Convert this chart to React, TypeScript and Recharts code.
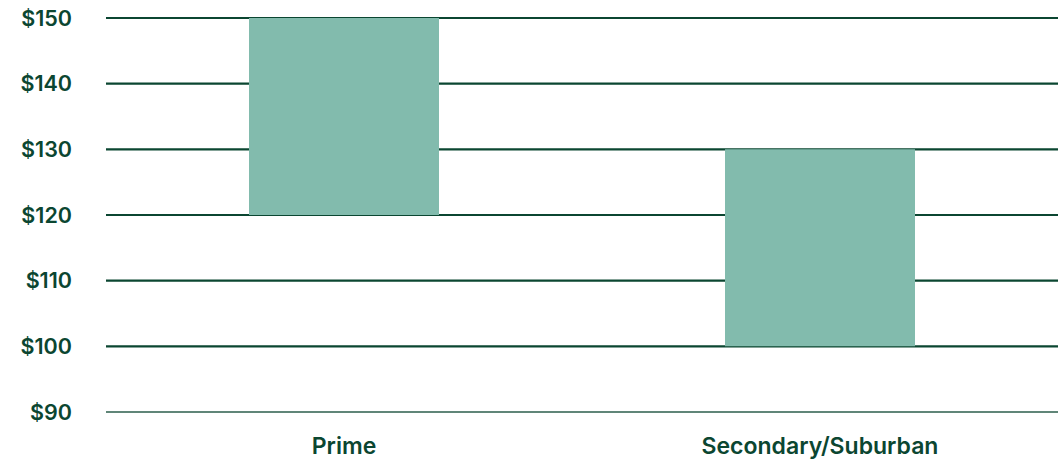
import { BarChart, Bar, XAxis, YAxis, CartesianGrid } from "recharts";

const categories = ["Prime", "Secondary/Suburban"];
const lowValues = [120, 100];
const highValues = [150, 130];
const yTicks = [90, 100, 110, 120, 130, 140, 150];

const data = categories.map((name, i) => ({
  name,
  range: [lowValues[i], highValues[i]],
}));

const ink = "#0b4631";
const font = "Inter, 'Noto Sans', sans-serif";

export default function App() {
  return (
    <div style={{ position: "absolute", left: 0, top: 0, background: "#fff" }}>
      <BarChart
        width={1063}
        height={462}
        data={data}
        margin={{ top: 18, right: 5, bottom: 0, left: 0 }}
      >
        <CartesianGrid
          vertical={false}
          horizontalValues={yTicks.slice(1)}
          stroke={ink}
          strokeWidth={2.2}
        />
        <XAxis
          dataKey="name"
          height={50}
          axisLine={{ stroke: "#2b5e4b", strokeWidth: 1.4 }}
          tickLine={false}
          tickSize={0}
          tickMargin={26}
          tick={{ fontSize: 23, fontWeight: 600, fill: ink, fontFamily: font }}
        />
        <YAxis
          width={106}
          domain={[90, 150]}
          ticks={yTicks}
          interval={0}
          axisLine={false}
          tickLine={false}
          tickSize={0}
          tickMargin={34}
          tickFormatter={(v: number) => `$${v}`}
          tick={{ fontSize: 21.5, fontWeight: 600, fill: ink, fontFamily: font }}
        />
        <Bar dataKey="range" fill="#82bbad" barSize={190} isAnimationActive={false} />
      </BarChart>
    </div>
  );
}
